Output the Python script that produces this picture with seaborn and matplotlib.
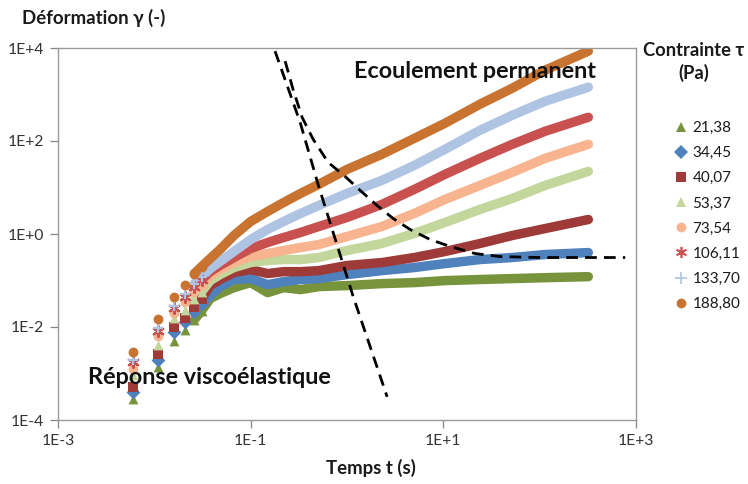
import matplotlib
matplotlib.use("Agg")
import matplotlib.pyplot as plt
import seaborn as sns
import pandas as pd
from matplotlib.lines import Line2D

# ---------------- data ----------------
stress_labels = ["21,38", "34,45", "40,07", "53,37", "73,54", "106,11", "133,70", "188,80"]
colors = ["#77933C", "#4F81BD", "#9E3A38", "#C3D69B", "#F8B48E", "#C8514F", "#AFC3E3", "#C8732F"]
markers = ["^", "D", "s", "^", "o", (6, 2, 0), "+", "o"]

# discrete early time points (s)
t_early = [0.006, 0.011, 0.016, 0.021, 0.026, 0.031]
# dense (continuous-looking) part (s)
t_cont = [0.038, 0.048, 0.067, 0.10, 0.15, 0.22, 0.33, 0.51, 1.0, 2.3, 5.0, 10.4, 24, 52, 114, 320]

early_2138 = [0.000285, 0.00139, 0.00507, 0.00875, 0.0144, 0.0224]
cont_2138 = [0.0407, 0.0522, 0.0703, 0.0901, 0.0548, 0.0703, 0.0637, 0.0739, 0.0777, 0.0857, 0.0901, 0.0995, 0.105, 0.110, 0.115, 0.121]

early_3445 = [0.000403, 0.00197, 0.00792, 0.0130, 0.0214, 0.0318]
cont_3445 = [0.0473, 0.0739, 0.105, 0.110, 0.0816, 0.0944, 0.105, 0.110, 0.134, 0.163, 0.190, 0.231, 0.282, 0.312, 0.362, 0.399]

early_4007 = [0.000517, 0.00266, 0.0101, 0.0159, 0.0274, 0.0407]
cont_4007 = [0.0777, 0.105, 0.148, 0.172, 0.141, 0.155, 0.155, 0.163, 0.210, 0.243, 0.312, 0.420, 0.624, 0.929, 1.31, 2.05]

early_5337 = [0.000937, 0.00415, 0.0159, 0.0236, 0.0407, 0.0577]
cont_5337 = [0.0995, 0.134, 0.190, 0.243, 0.269, 0.282, 0.282, 0.312, 0.441, 0.624, 1.03, 1.77, 3.37, 5.82, 11.1, 22.2]

early_7354 = [0.00126, 0.00649, 0.0203, 0.0351, 0.0577, 0.0816]
cont_7354 = [0.128, 0.172, 0.243, 0.327, 0.380, 0.441, 0.512, 0.594, 0.883, 1.45, 2.77, 5.54, 11.1, 21.2, 42.4, 84.9]

early_10611 = [0.00179, 0.00832, 0.0261, 0.0450, 0.0739, 0.105]
cont_10611 = [0.155, 0.210, 0.312, 0.487, 0.656, 0.841, 1.08, 1.45, 2.27, 4.32, 9.10, 19.2, 42.4, 84.9, 162, 324]

early_13370 = [0.00197, 0.00966, 0.0288, 0.0522, 0.0857, 0.121]
cont_13370 = [0.180, 0.255, 0.420, 0.761, 1.25, 1.86, 2.77, 4.11, 7.46, 14.2, 29.9, 66.2, 170, 358, 717, 1436]

early_18880 = [0.00294, 0.0151, 0.0450, 0.0816, 0.141, 0.200]
cont_18880 = [0.296, 0.463, 0.929, 1.86, 3.05, 4.77, 7.46, 11.7, 24.5, 51.7, 114, 241, 618, 1368, 3340, 8570]

early_all = [early_2138, early_3445, early_4007, early_5337, early_7354, early_10611, early_13370, early_18880]
cont_all = [cont_2138, cont_3445, cont_4007, cont_5337, cont_7354, cont_10611, cont_13370, cont_18880]

# boundary dashed lines
dashA_t = [0.179, 0.326, 0.501, 1.16, 2.61]
dashA_g = [8570, 253, 11.7, 0.0450, 0.000315]
dashB_t = [0.228, 0.275, 0.342, 0.445, 0.637, 0.955, 1.37, 2.05, 3.01, 4.52, 7.29, 11.8, 21.4, 38.9, 101, 773]
dashB_g = [5220, 1300, 324, 109, 34.8, 17.3, 8.66, 4.11, 2.16, 1.25, 0.761, 0.538, 0.380, 0.327, 0.312, 0.312]

x_ticks = [1e-3, 1e-1, 1e1, 1e3]
x_ticklabels = ["1E-3", "1E-1", "1E+1", "1E+3"]
y_ticks = [1e-4, 1e-2, 1e0, 1e2, 1e4]
y_ticklabels = ["1E-4", "1E-2", "1E+0", "1E+2", "1E+4"]

# ---------------- style ----------------
sns.set_style("white")
plt.rcParams["font.family"] = ["Lato", "DejaVu Sans"]

W, H = 748, 484
fig = plt.figure(figsize=(W / 100, H / 100), dpi=100)
L, R, T, B = 58, 636, 48, 420
ax = fig.add_axes([L / W, 1 - B / H, (R - L) / W, (B - T) / H])
ax.set_xscale("log")
ax.set_yscale("log")

for i, lab in enumerate(stress_labels):
    line_df = pd.DataFrame({"t": t_early[4:] + t_cont, "g": early_all[i][4:] + cont_all[i]})
    sns.lineplot(data=line_df, x="t", y="g", color=colors[i], linewidth=6.8,
                 estimator=None, sort=False, ax=ax, solid_capstyle="round",
                 solid_joinstyle="round")
    pts_df = pd.DataFrame({"t": t_early, "g": early_all[i]})
    m = markers[i]
    if m in ("+",) or isinstance(m, tuple):
        sns.scatterplot(data=pts_df, x="t", y="g", marker=m, color=colors[i], s=60,
                        linewidth=1.6, ax=ax, zorder=3)
    else:
        sns.scatterplot(data=pts_df, x="t", y="g", marker=m, color=colors[i], s=50,
                        linewidth=0, ax=ax, zorder=3)

dash_style = (0, (4.2, 2.6))
sns.lineplot(x=dashA_t, y=dashA_g, color="black", linewidth=2.0, estimator=None,
             sort=False, ax=ax, linestyle=dash_style, zorder=5)
sns.lineplot(x=dashB_t, y=dashB_g, color="black", linewidth=2.0, estimator=None,
             sort=False, ax=ax, linestyle=dash_style, zorder=5)

ax.set_xlim(1e-3, 1e3)
ax.set_ylim(1e-4, 1e4)
ax.set_xticks(x_ticks)
ax.set_xticklabels(x_ticklabels)
ax.set_yticks(y_ticks)
ax.set_yticklabels(y_ticklabels)
ax.minorticks_off()
ax.set_xlabel("")
ax.set_ylabel("")
ax.tick_params(axis="both", which="major", labelsize=11.3, labelcolor="#333333",
               length=6, width=0.9, color="#868686", direction="out", pad=4)
ax.tick_params(axis="both", which="both", bottom=True, left=True, top=False, right=False)
for s in ax.spines.values():
    s.set_color("#9a9a9a")
    s.set_linewidth(1.0)
    s.set_visible(True)

# axis titles
fig.text(22 / W, 1 - 18 / H, "Déformation γ (-)", ha="left", va="center",
         fontsize=13.4, fontweight="bold", color="#1a1a1a")
fig.text(371 / W, 1 - 468 / H, "Temps t (s)", ha="center", va="center",
         fontsize=13.4, fontweight="bold", color="#1a1a1a")

# annotations
fig.text(475 / W, 1 - 72 / H, "Ecoulement permanent", ha="center", va="center",
         fontsize=16.8, fontweight="bold", color="#111111")
fig.text(88 / W, 1 - 378 / H, "Réponse viscoélastique", ha="left", va="center",
         fontsize=16.8, fontweight="bold", color="#111111")

# legend
fig.text(694 / W, 1 - 50 / H, "Contrainte τ", ha="center", va="center",
         fontsize=13.2, fontweight="bold", color="#1a1a1a")
fig.text(694 / W, 1 - 73 / H, "(Pa)", ha="center", va="center",
         fontsize=13.2, fontweight="bold", color="#1a1a1a")
handles = []
for i, lab in enumerate(stress_labels):
    m = markers[i]
    if m == "+" or isinstance(m, tuple):
        h = Line2D([], [], linestyle="none", marker=m, color=colors[i], markersize=8,
                   markeredgewidth=1.2)
    else:
        h = Line2D([], [], linestyle="none", marker=m, color=colors[i], markersize=7,
                   markeredgewidth=0)
    handles.append(h)
fig.legend(handles, stress_labels, loc="upper left", bbox_to_anchor=(674 / W, 1 - 121 / H),
           frameon=False, fontsize=11, handlelength=0.9, handletextpad=0.3,
           labelspacing=0.73, borderpad=0, borderaxespad=0, labelcolor="#1a1a1a")

fig.savefig("out.png", dpi=100)
